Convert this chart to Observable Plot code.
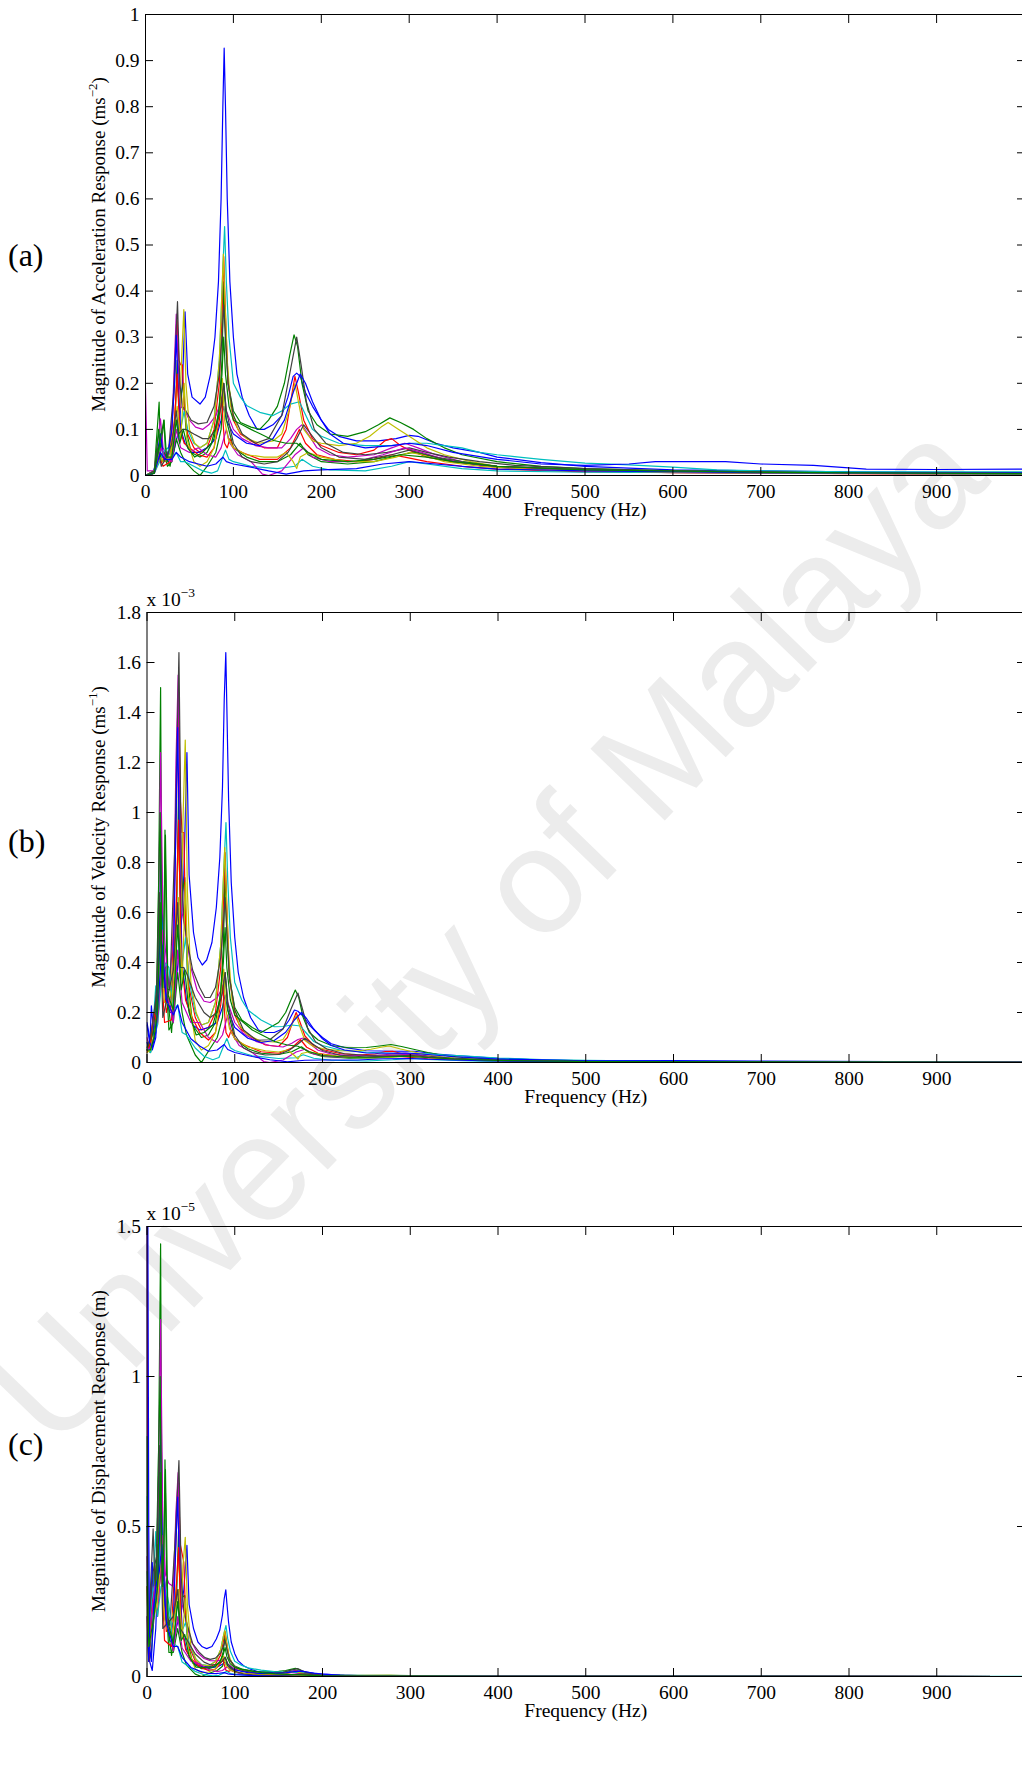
<!DOCTYPE html>
<html>
<head>
<meta charset="utf-8">
<script src="https://cdn.jsdelivr.net/npm/d3@7"></script>
<script src="https://cdn.jsdelivr.net/npm/@observablehq/plot@0.6"></script>
<style>
  html, body { margin: 0; padding: 0; background: white; overflow: hidden; }
  #page { position: relative; width: 1022px; height: 1778px; }
  #wm { position: absolute; left: 0; top: 0; z-index: 0; }
  #charts { position: absolute; left: 0; top: 0; z-index: 1; }
  #charts svg { display: block; }
</style>
</head>
<body>
<div id="page">
  <svg id="wm" width="1022" height="1778"></svg>
  <div id="charts"></div>
</div>
<script>
// ---------- series colours (MATLAB default colour order) ----------
const seriesColors = ["#0000ff","#008000","#ff0000","#00bfbf","#bf00bf","#bfbf00","#404040",
                      "#0000ff","#008000","#ff0000","#00bfbf","#bf00bf","#bfbf00","#404040",
                      "#0000ff","#008000"];

// ---------- tick values ----------
const xTicks = [0,100,200,300,400,500,600,700,800,900,1000];
const accTicks = [0,0.1,0.2,0.3,0.4,0.5,0.6,0.7,0.8,0.9,1];
const velTicks = [0,0.2,0.4,0.6,0.8,1,1.2,1.4,1.6,1.8];
const dispTicks = [0,0.5,1,1.5];

// ---------- (a) acceleration magnitude, [Hz, m/s^2] ----------
const acc1 = [[0,0],[8,0.005],[13,0.03],[17,0.09],[20,0.04],[26,0.03],[32,0.05],[38,0.1],[42,0.2],[45,0.355],[48,0.22],[53,0.17],[62,0.155],[68,0.17],[74,0.22],[79,0.3],[83,0.42],[86,0.6],[88,0.8],[89.5,0.927],[91,0.8],[93,0.6],[96,0.42],[100,0.3],[104,0.22],[110,0.17],[118,0.13],[127,0.1],[135,0.1],[145,0.11],[155,0.13],[162,0.17],[168,0.215],[172,0.222],[176,0.215],[182,0.18],[190,0.15],[200,0.12],[208,0.1],[220,0.085],[240,0.075],[265,0.075],[285,0.08],[300,0.087],[310,0.085],[330,0.07],[350,0.06],[380,0.05],[400,0.04],[450,0.028],[500,0.02],[600,0.012],[700,0.01],[800,0.008],[900,0.007],[1000,0.006]];
const acc2 = [[0,0],[10,0.01],[15.5,0.159],[17,0.05],[21,0.12],[23,0.04],[28,0.02],[33,0.08],[36,0.25],[38,0.15],[43,0.2],[46,0.1],[52,0.05],[62,0.04],[70,0.05],[78,0.08],[84,0.15],[87,0.25],[89,0.42],[91,0.3],[94,0.2],[100,0.14],[108,0.115],[120,0.105],[130,0.1],[140,0.12],[150,0.15],[158,0.2],[164,0.26],[169,0.305],[173,0.28],[178,0.2],[185,0.14],[195,0.11],[210,0.09],[230,0.085],[250,0.095],[265,0.11],[278,0.125],[290,0.115],[305,0.1],[320,0.08],[340,0.06],[360,0.045],[400,0.03],[450,0.02],[500,0.015],[600,0.01],[800,0.006],[1000,0.004]];
const acc3 = [[0,0],[10,0.01],[17,0.05],[22,0.03],[28,0.05],[33,0.2],[36,0.336],[38,0.25],[40,0.24],[42,0.24],[44,0.15],[48,0.09],[55,0.06],[62,0.05],[70,0.06],[78,0.1],[84,0.2],[87,0.35],[89,0.475],[91,0.35],[94,0.2],[100,0.12],[108,0.09],[120,0.075],[135,0.06],[150,0.06],[160,0.1],[166,0.17],[170,0.215],[174,0.18],[180,0.12],[190,0.08],[200,0.065],[220,0.05],[240,0.045],[260,0.055],[272,0.075],[280,0.08],[290,0.065],[300,0.055],[320,0.04],[350,0.03],[400,0.018],[500,0.01],[600,0.006],[800,0.004],[1000,0.003]];
const acc4 = [[0,0],[10,0.01],[16,0.06],[20,0.05],[25,0.05],[30,0.06],[35,0.12],[38,0.08],[44,0.14],[48,0.1],[55,0.07],[62,0.06],[70,0.07],[78,0.12],[84,0.25],[88,0.45],[90,0.54],[92,0.42],[95,0.3],[100,0.2],[108,0.17],[115,0.152],[130,0.137],[145,0.13],[155,0.14],[165,0.155],[175,0.16],[180,0.14],[190,0.1],[200,0.085],[220,0.07],[250,0.065],[280,0.065],[300,0.07],[320,0.07],[340,0.065],[360,0.06],[380,0.05],[400,0.045],[425,0.04],[450,0.035],[480,0.03],[500,0.027],[550,0.023],[600,0.018],[650,0.012],[700,0.01],[800,0.008],[900,0.008],[1000,0.008]];
const acc5 = [[0,0.19],[2,0.01],[10,0.01],[17,0.123],[20,0.06],[25,0.04],[30,0.1],[33,0.25],[35,0.35],[37,0.25],[40,0.15],[45,0.14],[50,0.12],[57,0.105],[65,0.1],[72,0.11],[80,0.13],[86,0.16],[89,0.2],[92,0.14],[100,0.1],[110,0.08],[125,0.065],[140,0.06],[155,0.06],[165,0.08],[172,0.1],[178,0.11],[185,0.09],[195,0.06],[210,0.045],[230,0.04],[260,0.045],[280,0.06],[295,0.07],[310,0.06],[330,0.045],[360,0.03],[400,0.02],[500,0.012],[600,0.008],[800,0.005],[1000,0.004]];
const acc6 = [[0,0],[10,0.01],[16,0.05],[20,0.03],[26,0.04],[32,0.1],[36,0.2],[39,0.14],[41,0.25],[43.6,0.36],[46,0.2],[50,0.1],[56,0.07],[62,0.06],[70,0.07],[78,0.12],[84,0.25],[87,0.4],[88.6,0.48],[90,0.4],[93,0.25],[97,0.15],[105,0.1],[115,0.08],[130,0.07],[145,0.075],[155,0.09],[163,0.14],[170,0.2],[175,0.15],[180,0.1],[190,0.075],[200,0.07],[220,0.065],[240,0.07],[255,0.085],[268,0.105],[276,0.115],[288,0.1],[300,0.085],[320,0.06],[340,0.045],[370,0.03],[400,0.02],[500,0.012],[600,0.008],[800,0.005],[1000,0.004]];
const acc7 = [[0,0],[10,0.01],[15,0.04],[20,0.03],[26,0.05],[32,0.18],[36.4,0.377],[39,0.2],[42,0.15],[46,0.14],[52,0.12],[60,0.112],[70,0.115],[78,0.15],[84,0.22],[87,0.3],[89,0.37],[91,0.3],[94,0.2],[100,0.13],[110,0.09],[125,0.07],[140,0.08],[155,0.13],[164,0.22],[172,0.3],[177,0.24],[183,0.16],[192,0.1],[205,0.07],[225,0.05],[250,0.045],[275,0.05],[300,0.06],[320,0.05],[345,0.04],[380,0.03],[420,0.022],[500,0.015],[600,0.01],[800,0.006],[1000,0.005]];
const acc8 = [[0,0],[10,0.005],[17,0.09],[20,0.05],[25,0.04],[30,0.1],[33,0.2],[35,0.304],[37,0.2],[40,0.1],[45,0.07],[52,0.05],[60,0.05],[70,0.06],[80,0.08],[86,0.12],[89,0.15],[92,0.12],[100,0.09],[115,0.07],[130,0.065],[145,0.08],[158,0.12],[168,0.18],[176,0.22],[182,0.2],[190,0.16],[200,0.12],[210,0.09],[225,0.07],[250,0.06],[280,0.065],[300,0.07],[320,0.065],[350,0.05],[400,0.035],[450,0.025],[500,0.022],[550,0.025],[580,0.03],[620,0.03],[660,0.03],[700,0.025],[760,0.022],[820,0.014],[900,0.013],[1000,0.014]];
const acc9 = [[0,0],[10,0.005],[15,0.1],[17,0.04],[21,0.05],[25,0.02],[30,0.03],[35,0.08],[40,0.05],[45,0.03],[55,0.01],[62,0],[70,0.02],[80,0.05],[86,0.1],[89,0.2],[92,0.12],[100,0.06],[115,0.04],[130,0.03],[150,0.03],[165,0.045],[176,0.07],[185,0.045],[200,0.03],[230,0.025],[260,0.03],[290,0.045],[305,0.05],[330,0.04],[360,0.03],[400,0.02],[500,0.012],[700,0.006],[1000,0.004]];
const acc10 = [[0,0],[10,0.005],[16,0.04],[20,0.02],[28,0.03],[33,0.12],[36,0.22],[39,0.1],[44,0.07],[50,0.06],[60,0.045],[70,0.04],[78,0.06],[84,0.12],[86.6,0.17],[88,0.12],[90,0.07],[93,0.06],[96,0.08],[100,0.06],[110,0.05],[130,0.035],[150,0.035],[165,0.06],[175,0.1],[182,0.07],[195,0.045],[215,0.035],[240,0.03],[260,0.035],[280,0.045],[295,0.04],[320,0.03],[360,0.02],[400,0.014],[500,0.008],[700,0.005],[1000,0.003]];
const acc11 = [[0,0],[10,0.005],[16,0.03],[20,0.05],[25,0.06],[30,0.04],[35,0.05],[40,0.03],[45,0.03],[55,0.02],[65,0.01],[75,0.005],[82,0.01],[88,0.04],[91,0.055],[95,0.035],[100,0.03],[120,0.02],[150,0.015],[170,0.02],[178,0.035],[190,0.02],[210,0.012],[250,0.01],[280,0.02],[300,0.03],[320,0.025],[360,0.015],[400,0.01],[500,0.007],[1000,0.003]];
const acc12 = [[0,0],[10,0.005],[18,0.06],[22,0.04],[30,0.03],[35,0.1],[40,0.06],[50,0.05],[60,0.06],[70,0.045],[80,0.04],[86,0.06],[92,0.1],[96,0.07],[105,0.045],[120,0.03],[133,0.003],[140,0],[155,0.01],[170,0.045],[180,0.06],[190,0.04],[210,0.03],[240,0.03],[270,0.045],[295,0.06],[315,0.05],[340,0.035],[380,0.022],[420,0.015],[500,0.01],[700,0.006],[1000,0.004]];
const acc13 = [[0,0],[10,0.005],[16,0.04],[20,0.03],[28,0.04],[33,0.1],[36,0.15],[40,0.08],[44,0.2],[47,0.08],[55,0.03],[62,0.02],[70,0.03],[78,0.06],[84,0.14],[87.5,0.21],[90,0.12],[94,0.08],[100,0.06],[115,0.045],[135,0.04],[150,0.04],[160,0.05],[168,0.03],[172,0.015],[176,0.04],[185,0.05],[200,0.04],[230,0.03],[260,0.03],[285,0.04],[300,0.05],[315,0.045],[340,0.03],[380,0.02],[450,0.012],[600,0.007],[1000,0.004]];
const acc14 = [[0,0],[10,0.005],[14,0.06],[18,0.02],[24,0.04],[30,0.07],[35,0.14],[38,0.09],[42,0.1],[46,0.1],[55,0.09],[65,0.08],[72,0.08],[80,0.1],[86,0.15],[89,0.2],[92,0.14],[100,0.07],[110,0.04],[120,0.03],[135,0.025],[150,0.03],[162,0.05],[172,0.08],[180,0.11],[188,0.09],[200,0.06],[220,0.04],[250,0.035],[280,0.045],[300,0.055],[320,0.045],[350,0.03],[400,0.02],[500,0.012],[700,0.007],[1000,0.004]];
const acc15 = [[0,0],[10,0.005],[17,0.05],[22,0.035],[30,0.035],[35,0.05],[40,0.04],[50,0.03],[60,0.025],[70,0.02],[80,0.025],[88,0.04],[92,0.03],[100,0.025],[120,0.018],[140,0.01],[160,0.003],[180,0.01],[200,0.012],[240,0.015],[270,0.025],[300,0.03],[330,0.025],[370,0.018],[400,0.014],[500,0.01],[700,0.006],[1000,0.005]];
const acc16 = [[0,0],[10,0.005],[15,0.06],[21,0.12],[24,0.04],[30,0.04],[35,0.12],[39,0.07],[43,0.1],[48,0.06],[56,0.04],[65,0.05],[75,0.07],[83,0.13],[87,0.22],[89,0.3],[91,0.22],[95,0.15],[100,0.12],[110,0.11],[120,0.1],[131,0.09],[146,0.076],[160,0.07],[172,0.07],[185,0.05],[200,0.035],[230,0.03],[260,0.035],[290,0.045],[320,0.04],[350,0.03],[400,0.02],[500,0.012],[700,0.007],[1000,0.004]];

// ---------- (b) velocity magnitude, [Hz, x10^-3 m/s] ----------
const vel1 = [[0,0.16],[3,0.1],[6,0.05],[10,0.1],[13,0.3],[16,0.88],[18,0.5],[21,0.3],[26,0.2],[30,0.2],[34,0.35],[38,0.5],[42,0.75],[45.5,1.24],[48,0.75],[53,0.52],[58,0.42],[63,0.39],[68,0.41],[74,0.48],[79,0.62],[83,0.82],[86,1.1],[88,1.45],[89.8,1.64],[91,1.42],[93,1.05],[96,0.72],[100,0.5],[104,0.36],[110,0.26],[118,0.18],[127,0.13],[135,0.12],[145,0.12],[155,0.135],[162,0.17],[168,0.21],[172,0.205],[178,0.185],[185,0.15],[192,0.125],[200,0.1],[210,0.075],[225,0.06],[250,0.047],[280,0.045],[305,0.045],[330,0.034],[360,0.026],[400,0.017],[450,0.01],[500,0.007],[600,0.004],[800,0.002],[1000,0.001]];
const vel2 = [[0,0.05],[4,0.04],[8,0.1],[12,0.3],[15.5,1.5],[17,0.5],[19,0.4],[20.5,0.93],[23,0.27],[28,0.12],[33,0.4],[36,1.1],[38,0.63],[43,0.74],[46,0.35],[52,0.15],[62,0.1],[70,0.11],[78,0.16],[84,0.28],[87,0.46],[89,0.78],[91,0.52],[94,0.34],[100,0.22],[108,0.17],[120,0.14],[130,0.12],[140,0.14],[150,0.16],[158,0.2],[164,0.25],[169,0.29],[173,0.26],[178,0.18],[185,0.12],[195,0.09],[210,0.068],[230,0.059],[250,0.06],[265,0.066],[278,0.072],[290,0.064],[305,0.052],[320,0.04],[340,0.028],[360,0.02],[400,0.012],[500,0.005],[700,0.002],[1000,0.001]];
const vel3 = [[0,0.05],[4,0.1],[8,0.2],[12,0.2],[16,0.5],[19,0.35],[22,0.2],[28,0.28],[33,0.93],[35,1.3],[36,1.45],[38,1.05],[40,0.92],[42,0.92],[44,0.55],[48,0.3],[55,0.18],[62,0.13],[70,0.14],[78,0.2],[84,0.38],[87,0.64],[89,0.84],[91,0.62],[94,0.34],[100,0.19],[108,0.13],[120,0.1],[135,0.07],[150,0.064],[160,0.1],[166,0.163],[170,0.2],[174,0.165],[180,0.106],[190,0.067],[200,0.052],[220,0.036],[240,0.03],[260,0.034],[272,0.044],[280,0.045],[290,0.036],[300,0.029],[320,0.02],[350,0.014],[400,0.007],[500,0.003],[1000,0.0005]];
const vel4 = [[0,0.08],[4,0.05],[7,0.15],[10,0.307],[13,0.2],[16,0.6],[20,0.4],[25,0.32],[30,0.32],[35,0.55],[38,0.34],[44,0.5],[48,0.33],[55,0.2],[62,0.15],[70,0.16],[78,0.24],[84,0.47],[88,0.81],[90,0.96],[92,0.73],[95,0.5],[100,0.32],[108,0.25],[115,0.21],[130,0.17],[145,0.143],[155,0.144],[165,0.15],[175,0.146],[180,0.124],[190,0.084],[200,0.068],[220,0.05],[250,0.041],[280,0.037],[300,0.037],[320,0.035],[340,0.03],[360,0.027],[400,0.018],[450,0.012],[500,0.009],[600,0.005],[700,0.002],[1000,0.001]];
const vel5 = [[0,0.1],[3,0.05],[8,0.1],[12,0.3],[15.5,1.24],[18,0.6],[21,0.45],[25,0.3],[30,0.5],[33,1.2],[35.5,1.55],[37,1.1],[40,0.6],[45,0.5],[50,0.38],[57,0.29],[65,0.245],[72,0.24],[80,0.26],[86,0.3],[89,0.36],[92,0.24],[100,0.16],[110,0.116],[125,0.083],[140,0.068],[155,0.062],[165,0.077],[172,0.092],[178,0.098],[185,0.077],[195,0.049],[210,0.034],[230,0.028],[260,0.028],[280,0.034],[295,0.038],[310,0.031],[330,0.022],[360,0.013],[400,0.008],[500,0.004],[1000,0.0006]];
const vel6 = [[0,0.05],[4,0.06],[8,0.15],[12,0.25],[16,0.5],[19,0.35],[22,0.26],[26,0.25],[32,0.5],[36,0.88],[39,0.57],[41,0.97],[43.6,1.29],[46,0.69],[50,0.32],[56,0.2],[62,0.15],[70,0.16],[78,0.24],[84,0.47],[87,0.73],[88.6,0.86],[90,0.71],[93,0.43],[97,0.25],[105,0.15],[115,0.11],[130,0.085],[145,0.082],[155,0.092],[163,0.137],[170,0.187],[175,0.136],[180,0.088],[190,0.063],[200,0.056],[220,0.047],[240,0.046],[255,0.053],[268,0.062],[276,0.066],[288,0.055],[300,0.045],[320,0.03],[340,0.021],[370,0.013],[400,0.008],[500,0.004],[1000,0.0006]];
const vel7 = [[0,0.05],[4,0.08],[8,0.15],[11,0.3],[14,0.25],[17,0.4],[20,0.3],[26,0.29],[32,0.9],[36.4,1.64],[39,0.82],[42,0.57],[46,0.48],[52,0.37],[60,0.3],[66,0.26],[72,0.26],[78,0.3],[84,0.42],[87,0.55],[89,0.66],[91,0.52],[94,0.34],[100,0.21],[110,0.13],[125,0.089],[140,0.091],[155,0.134],[164,0.213],[172,0.278],[177,0.216],[183,0.139],[192,0.083],[205,0.054],[225,0.035],[250,0.029],[275,0.029],[300,0.032],[320,0.025],[345,0.018],[380,0.013],[420,0.008],[500,0.005],[1000,0.0008]];
const vel8 = [[0,0.08],[3,0.05],[5,0.227],[8,0.1],[12,0.25],[16,0.6],[18,0.45],[22,0.25],[27,0.22],[30,0.35],[33,0.95],[35,1.34],[37,0.86],[40,0.4],[45,0.25],[52,0.15],[60,0.13],[70,0.14],[80,0.16],[86,0.22],[89,0.27],[92,0.21],[100,0.14],[115,0.097],[130,0.08],[145,0.088],[158,0.121],[168,0.17],[176,0.2],[182,0.175],[190,0.134],[200,0.095],[210,0.068],[225,0.05],[250,0.038],[280,0.037],[300,0.037],[320,0.032],[350,0.023],[400,0.014],[500,0.007],[600,0.008],[700,0.006],[1000,0.002]];
const vel9 = [[0,0.05],[5,0.1],[10,0.15],[15,1.0],[17,0.37],[21,0.38],[25,0.13],[30,0.16],[35,0.36],[40,0.2],[45,0.11],[55,0.03],[62,0],[70,0.045],[80,0.1],[86,0.18],[89,0.36],[92,0.21],[100,0.095],[115,0.055],[130,0.037],[150,0.032],[165,0.043],[176,0.063],[185,0.039],[200,0.024],[230,0.017],[260,0.018],[290,0.025],[305,0.026],[330,0.019],[360,0.013],[400,0.008],[500,0.004],[1000,0.0006]];
const vel10 = [[0,0.04],[4,0.08],[8,0.2],[12,0.15],[16,0.4],[20,0.16],[28,0.17],[33,0.58],[36,0.97],[39,0.41],[44,0.25],[50,0.19],[60,0.12],[70,0.09],[78,0.12],[84,0.23],[86.6,0.31],[88,0.22],[90,0.12],[93,0.1],[96,0.13],[100,0.095],[110,0.072],[130,0.043],[150,0.037],[165,0.058],[175,0.091],[182,0.061],[195,0.037],[215,0.026],[240,0.02],[260,0.021],[280,0.026],[295,0.022],[320,0.015],[360,0.009],[400,0.006],[500,0.003],[1000,0.0005]];
const vel11 = [[0,0.06],[4,0.04],[8,0.1],[12,0.15],[16,0.3],[20,0.4],[25,0.38],[30,0.21],[35,0.23],[40,0.12],[45,0.11],[55,0.058],[65,0.025],[75,0.011],[82,0.02],[88,0.072],[91,0.096],[95,0.059],[100,0.048],[120,0.027],[150,0.016],[170,0.019],[178,0.031],[190,0.017],[210,0.009],[250,0.006],[280,0.011],[300,0.016],[320,0.012],[360,0.007],[400,0.004],[500,0.002],[1000,0.0005]];
const vel12 = [[0,0.05],[4,0.06],[8,0.1],[13,0.2],[18,0.53],[22,0.29],[30,0.16],[35,0.45],[40,0.24],[50,0.16],[60,0.16],[70,0.1],[80,0.08],[86,0.11],[92,0.19],[96,0.12],[105,0.068],[120,0.04],[133,0.004],[140,0],[155,0.01],[170,0.042],[180,0.053],[190,0.034],[210,0.023],[240,0.02],[270,0.026],[295,0.032],[315,0.025],[340,0.016],[380,0.009],[420,0.006],[500,0.003],[1000,0.0006]];
const vel13 = [[0,0.04],[4,0.05],[8,0.1],[12,0.2],[16,0.4],[20,0.24],[28,0.23],[33,0.48],[36,0.66],[40,0.32],[44,0.72],[47,0.27],[55,0.087],[62,0.05],[70,0.068],[78,0.12],[84,0.27],[87.5,0.374],[90,0.21],[94,0.135],[100,0.095],[115,0.062],[135,0.047],[150,0.042],[160,0.05],[168,0.028],[172,0.014],[176,0.036],[185,0.043],[200,0.032],[230,0.021],[260,0.018],[285,0.022],[300,0.027],[315,0.023],[340,0.014],[380,0.008],[450,0.004],[1000,0.0006]];
const vel14 = [[0,0.06],[4,0.1],[8,0.2],[11,0.28],[14,0.68],[18,0.18],[24,0.27],[30,0.37],[35,0.64],[38,0.38],[42,0.38],[46,0.35],[55,0.26],[65,0.2],[72,0.18],[80,0.2],[86,0.28],[89,0.36],[92,0.24],[100,0.11],[110,0.058],[120,0.04],[135,0.03],[150,0.032],[162,0.049],[172,0.074],[180,0.097],[188,0.076],[200,0.048],[220,0.029],[250,0.022],[280,0.026],[300,0.029],[320,0.022],[350,0.014],[400,0.008],[500,0.004],[1000,0.0006]];
const vel15 = [[0,0.15],[3,0.08],[6,0.06],[10,0.12],[14,0.3],[17,0.47],[22,0.25],[30,0.19],[35,0.23],[40,0.16],[50,0.095],[60,0.066],[70,0.045],[80,0.05],[88,0.072],[92,0.052],[100,0.04],[120,0.024],[140,0.011],[160,0.003],[180,0.009],[200,0.01],[240,0.01],[270,0.015],[300,0.016],[330,0.012],[370,0.008],[400,0.006],[500,0.003],[700,0.0014],[1000,0.0008]];
const vel16 = [[0,0.05],[4,0.05],[8,0.1],[12,0.2],[15,0.64],[18,0.3],[21,0.91],[24,0.27],[30,0.21],[35,0.55],[39,0.29],[43,0.37],[48,0.2],[56,0.11],[65,0.12],[75,0.15],[83,0.25],[87,0.4],[89,0.54],[91,0.38],[95,0.25],[100,0.19],[110,0.16],[120,0.13],[131,0.11],[146,0.083],[160,0.07],[172,0.065],[185,0.043],[200,0.028],[230,0.021],[260,0.021],[290,0.025],[320,0.02],[350,0.014],[400,0.008],[500,0.004],[1000,0.0006]];

// ---------- (c) displacement magnitude, [Hz, x10^-5 m] ----------
const disp1 = [[0,1.6],[1,0.3],[3,0.05],[6,0.02],[10,0.16],[13,0.4],[16,0.85],[18,0.4],[21,0.2],[26,0.12],[30,0.11],[34,0.17],[38,0.21],[42,0.29],[45.5,0.437],[48,0.24],[53,0.16],[58,0.115],[63,0.099],[68,0.093],[74,0.1],[79,0.125],[83,0.155],[86,0.205],[88,0.26],[89.8,0.289],[91,0.245],[93,0.18],[96,0.115],[100,0.076],[104,0.052],[110,0.036],[118,0.024],[127,0.016],[135,0.014],[145,0.013],[155,0.014],[162,0.016],[168,0.019],[172,0.019],[178,0.017],[185,0.013],[192,0.01],[200,0.008],[210,0.006],[225,0.004],[250,0.003],[300,0.0025],[350,0.0012],[400,0.0006],[500,0.0002],[1000,0]];
const disp2 = [[0,0.3],[2,0.05],[5,0.08],[8,0.2],[12,0.4],[15.5,1.442],[17,0.45],[19,0.3],[20.5,0.722],[23,0.19],[28,0.07],[33,0.19],[36,0.49],[38,0.26],[43,0.27],[46,0.12],[52,0.046],[62,0.026],[70,0.026],[78,0.033],[84,0.053],[87,0.084],[89,0.14],[91,0.091],[94,0.057],[100,0.035],[108,0.025],[120,0.018],[130,0.015],[140,0.016],[150,0.017],[158,0.02],[164,0.024],[169,0.027],[173,0.024],[178,0.016],[185,0.01],[195,0.007],[210,0.005],[230,0.004],[260,0.0035],[278,0.004],[300,0.003],[350,0.0013],[400,0.0005],[500,0.0002],[1000,0]];
const disp3 = [[0,0.2],[2,0.05],[5,0.15],[9,0.37],[12,0.25],[16,0.5],[19,0.3],[22,0.15],[28,0.16],[33,0.45],[35,0.6],[36,0.62],[38,0.44],[40,0.41],[42,0.38],[44,0.2],[48,0.1],[55,0.052],[62,0.033],[70,0.031],[78,0.041],[84,0.072],[87,0.118],[89,0.15],[91,0.11],[94,0.058],[100,0.03],[108,0.02],[120,0.013],[135,0.0083],[150,0.0068],[160,0.01],[166,0.016],[170,0.019],[174,0.015],[180,0.0094],[190,0.0056],[200,0.0041],[240,0.002],[280,0.0026],[300,0.0016],[350,0.0006],[400,0.0003],[1000,0]];
const disp4 = [[0,0.6],[2,0.1],[5,0.2],[7,0.3],[10,0.483],[13,0.25],[16,0.6],[20,0.32],[25,0.2],[30,0.17],[35,0.25],[38,0.14],[44,0.18],[48,0.11],[55,0.06],[62,0.04],[70,0.036],[78,0.05],[84,0.09],[88,0.147],[90,0.17],[92,0.126],[95,0.084],[100,0.051],[108,0.037],[115,0.029],[130,0.021],[145,0.016],[155,0.015],[165,0.014],[175,0.013],[180,0.011],[190,0.007],[200,0.0054],[220,0.0036],[250,0.0026],[300,0.002],[350,0.0014],[400,0.0007],[500,0.0003],[1000,0.0001]];
const disp5 = [[0,1.6],[1,0.4],[3,0.1],[8,0.2],[12,0.4],[15.5,1.19],[18,0.5],[21,0.34],[25,0.31],[30,0.3],[33,0.55],[35.5,0.68],[37,0.47],[40,0.24],[45,0.18],[50,0.12],[57,0.081],[65,0.06],[72,0.053],[80,0.052],[86,0.056],[89,0.064],[92,0.042],[100,0.025],[110,0.017],[125,0.011],[140,0.0077],[155,0.0064],[165,0.0075],[172,0.0085],[178,0.0088],[185,0.0066],[195,0.004],[210,0.0026],[240,0.0017],[295,0.002],[330,0.001],[400,0.0003],[1000,0]];
const disp6 = [[0,0.3],[2,0.08],[5,0.15],[8,0.25],[12,0.3],[16,0.4],[19,0.29],[22,0.19],[26,0.15],[32,0.25],[36,0.39],[39,0.23],[41,0.37],[43.6,0.464],[46,0.24],[50,0.1],[56,0.057],[62,0.039],[70,0.036],[78,0.049],[84,0.09],[87,0.134],[88.6,0.153],[90,0.125],[93,0.074],[97,0.041],[105,0.023],[115,0.015],[130,0.01],[145,0.009],[155,0.0095],[163,0.013],[170,0.0175],[175,0.012],[180,0.0078],[190,0.0053],[200,0.0044],[240,0.003],[276,0.0038],[300,0.0024],[350,0.0009],[400,0.0003],[1000,0]];
const disp7 = [[0,0.4],[2,0.1],[4,0.3],[7,0.492],[9,0.3],[12,0.44],[14,0.3],[17,0.37],[20,0.24],[26,0.17],[32,0.45],[36.4,0.72],[39,0.33],[42,0.22],[46,0.17],[52,0.11],[60,0.079],[66,0.063],[72,0.057],[78,0.061],[84,0.079],[87,0.1],[89,0.12],[91,0.092],[94,0.057],[100,0.033],[110,0.019],[125,0.011],[140,0.01],[155,0.014],[164,0.021],[172,0.026],[177,0.019],[183,0.012],[192,0.0069],[205,0.0042],[225,0.0025],[275,0.0017],[300,0.0017],[350,0.0008],[400,0.0004],[1000,0]];
const disp8 = [[0,0.2],[2,0.05],[4,0.2],[6,0.38],[8,0.2],[12,0.3],[16,0.6],[18,0.4],[22,0.18],[27,0.13],[30,0.18],[33,0.45],[35,0.598],[37,0.37],[40,0.16],[45,0.087],[52,0.046],[60,0.035],[70,0.031],[80,0.032],[86,0.041],[89,0.048],[92,0.036],[100,0.022],[115,0.013],[130,0.0097],[145,0.0096],[158,0.012],[168,0.016],[176,0.018],[182,0.015],[190,0.011],[200,0.0076],[220,0.0045],[250,0.0024],[300,0.002],[350,0.001],[400,0.0006],[600,0.0002],[1000,0]];
const disp9 = [[0,0.8],[1,0.2],[3,0.1],[6,0.25],[10,0.3],[15,1.0],[17,0.35],[21,0.29],[25,0.08],[30,0.08],[35,0.16],[40,0.08],[45,0.038],[55,0.008],[62,0],[70,0.01],[80,0.02],[86,0.034],[89,0.064],[92,0.036],[100,0.015],[115,0.0077],[130,0.0045],[150,0.0034],[165,0.0042],[176,0.0057],[185,0.0034],[200,0.0019],[250,0.0012],[300,0.0014],[400,0.0003],[1000,0]];
const disp10 = [[0,0.3],[2,0.1],[5,0.2],[8,0.3],[12,0.2],[16,0.4],[20,0.12],[28,0.1],[33,0.28],[36,0.43],[39,0.17],[44,0.09],[50,0.06],[60,0.032],[70,0.02],[78,0.025],[84,0.044],[86.6,0.057],[88,0.039],[90,0.021],[93,0.017],[96,0.021],[100,0.015],[110,0.01],[130,0.0052],[150,0.004],[165,0.0056],[175,0.0083],[182,0.0053],[195,0.003],[240,0.0013],[280,0.0015],[320,0.0007],[400,0.0002],[1000,0]];
const disp11 = [[0,0.5],[2,0.15],[5,0.25],[8,0.3],[12,0.2],[16,0.3],[20,0.32],[25,0.24],[30,0.11],[35,0.1],[40,0.048],[45,0.038],[55,0.017],[65,0.006],[75,0.002],[82,0.004],[88,0.013],[91,0.017],[95,0.01],[100,0.0076],[120,0.0035],[150,0.0017],[170,0.0018],[178,0.0028],[190,0.0014],[210,0.0007],[300,0.0008],[400,0.0002],[1000,0]];
const disp12 = [[0,0.4],[2,0.1],[5,0.2],[9,0.3],[13,0.25],[18,0.47],[22,0.21],[30,0.085],[35,0.2],[40,0.095],[50,0.051],[60,0.042],[70,0.023],[80,0.016],[86,0.02],[92,0.033],[96,0.02],[105,0.01],[120,0.0053],[140,0],[155,0.001],[170,0.0039],[180,0.0047],[190,0.0028],[210,0.0017],[240,0.0013],[295,0.0017],[340,0.0008],[400,0.0003],[1000,0]];
const disp13 = [[0,0.3],[2,0.1],[5,0.15],[8,0.2],[12,0.25],[16,0.4],[20,0.19],[28,0.13],[33,0.23],[36,0.29],[40,0.13],[44,0.26],[47,0.09],[55,0.025],[62,0.013],[70,0.015],[78,0.025],[84,0.051],[87.5,0.068],[90,0.037],[94,0.023],[100,0.015],[115,0.0086],[135,0.0055],[150,0.0045],[160,0.005],[168,0.0027],[172,0.0013],[176,0.0033],[185,0.0037],[200,0.0025],[240,0.0013],[300,0.0014],[350,0.0006],[400,0.0002],[1000,0]];
const disp14 = [[0,0.5],[2,0.15],[4,0.25],[7,0.35],[11,0.4],[14,0.77],[18,0.16],[24,0.18],[30,0.2],[35,0.29],[38,0.16],[42,0.14],[46,0.12],[55,0.075],[65,0.048],[72,0.039],[80,0.04],[86,0.051],[89,0.064],[92,0.042],[100,0.018],[110,0.0083],[120,0.0053],[135,0.0035],[150,0.0034],[162,0.0048],[172,0.0069],[180,0.0086],[188,0.0064],[200,0.0038],[250,0.0014],[300,0.0015],[350,0.0006],[400,0.0003],[1000,0]];
const disp15 = [[0,2.0],[1,1.5],[2,0.5],[3,0.1],[5,0.05],[7,0.2],[10,0.3],[14,0.35],[17,0.44],[22,0.18],[30,0.1],[35,0.1],[40,0.064],[50,0.03],[60,0.018],[70,0.01],[80,0.0099],[88,0.013],[92,0.009],[100,0.0063],[120,0.0032],[140,0.0013],[160,0.0003],[180,0.0008],[200,0.0008],[270,0.0009],[300,0.0008],[400,0.0002],[1000,0]];
const disp16 = [[0,0.35],[2,0.1],[5,0.15],[8,0.2],[12,0.3],[15,0.68],[18,0.3],[21,0.69],[24,0.18],[30,0.11],[35,0.25],[39,0.12],[43,0.14],[48,0.066],[56,0.031],[65,0.03],[75,0.032],[83,0.048],[87,0.074],[89,0.096],[91,0.067],[95,0.042],[100,0.03],[110,0.023],[120,0.018],[131,0.013],[146,0.009],[160,0.0069],[172,0.006],[185,0.0037],[200,0.0022],[250,0.0012],[300,0.0011],[400,0.0003],[1000,0]];

const accSeries = [acc1,acc2,acc3,acc4,acc5,acc6,acc7,acc8,acc9,acc10,acc11,acc12,acc13,acc14,acc15,acc16];
const velSeries = [vel1,vel2,vel3,vel4,vel5,vel6,vel7,vel8,vel9,vel10,vel11,vel12,vel13,vel14,vel15,vel16];
const dispSeries = [disp1,disp2,disp3,disp4,disp5,disp6,disp7,disp8,disp9,disp10,disp11,disp12,disp13,disp14,disp15,disp16];

const FONT = "Liberation Serif, Times New Roman, serif";
const fmt = d => String(+(+d).toFixed(2));

function panel({series, yTicks, yMax, height, marginTop, marginBottom, marginLeft, letter, letterY, title, titleSup, scaleExp}) {
  const W = 1022;
  const marks = [];
  series.forEach((pts, i) => {
    marks.push(Plot.line(pts, {x: d => d[0], y: d => d[1], stroke: seriesColors[i], strokeWidth: 1.2, clip: true}));
  });
  marks.push(
    Plot.frame({stroke: "black", strokeWidth: 1}),
    Plot.axisX(xTicks, {anchor: "bottom", tickSize: -8, tickPadding: 16.2, tickFormat: d => d === 1000 ? "" : String(d), label: null}),
    Plot.axisX(xTicks, {anchor: "top", tickSize: -8, tickFormat: () => "", label: null}),
    Plot.axisY(yTicks, {anchor: "left", tickSize: -8, tickPadding: 14, tickFormat: fmt, label: null}),
    Plot.axisY(yTicks, {anchor: "right", tickSize: -8, tickFormat: () => "", label: null}),
    Plot.text(["Frequency (Hz)"], {frameAnchor: "bottom", dy: 40, lineAnchor: "bottom", text: d => d, fontSize: 19.5, fill: "black"})
  );
  const svg = Plot.plot({
    width: W, height, marginLeft, marginRight: -2, marginTop, marginBottom,
    x: {domain: [0, 1000], axis: null},
    y: {domain: [0, yMax], axis: null},
    style: {fontFamily: FONT, fontSize: "19.5px", background: "transparent", color: "black"},
    marks
  });
  const s = d3.select(svg);
  const cy = (marginTop + (height - marginBottom)) / 2;
  // y-axis title (rotated) with superscript
  const t = s.append("text")
    .attr("transform", `translate(105,${cy}) rotate(-90)`)
    .attr("text-anchor", "middle")
    .attr("font-family", FONT).attr("font-size", 19).attr("fill", "black");
  t.append("tspan").text(title);
  if (titleSup) {
    t.append("tspan").attr("dy", -8).attr("font-size", 13).text(titleSup);
    t.append("tspan").attr("dy", 8).attr("font-size", 19).text(")");
  }
  // panel letter
  s.append("text").attr("x", 8).attr("y", letterY).attr("text-anchor", "start")
    .attr("font-family", FONT).attr("font-size", 32).attr("fill", "black").text(letter);
  // scale exponent
  if (scaleExp) {
    const e = s.append("text").attr("x", marginLeft).attr("y", marginTop - 6).attr("text-anchor", "start")
      .attr("font-family", FONT).attr("font-size", 19.5).attr("fill", "black");
    e.append("tspan").text("x 10");
    e.append("tspan").attr("dy", -9).attr("font-size", 13.5).text(scaleExp);
  }
  return svg;
}

const charts = document.getElementById("charts");
charts.appendChild(panel({
  series: accSeries, yTicks: accTicks, yMax: 1, height: 540, marginTop: 14, marginBottom: 65, marginLeft: 145,
  letter: "(a)", letterY: 266, title: "Magnitude of Acceleration Response (ms", titleSup: "\u22122"
}));
charts.appendChild(panel({
  series: velSeries, yTicks: velTicks, yMax: 1.8, height: 590, marginTop: 72, marginBottom: 68, marginLeft: 146.5,
  letter: "(b)", letterY: 312, title: "Magnitude of Velocity Response (ms", titleSup: "\u22121", scaleExp: "\u22123"
}));
charts.appendChild(panel({
  series: dispSeries, yTicks: dispTicks, yMax: 1.5, height: 648, marginTop: 96, marginBottom: 102, marginLeft: 146.5,
  letter: "(c)", letterY: 325, title: "Magnitude of Displacement Response (m)", titleSup: null, scaleExp: "\u22125"
}));

// faint watermark behind the charts
d3.select("#wm").append("text")
  .attr("transform", "translate(495,940) rotate(-46)")
  .attr("text-anchor", "middle").attr("dy", "0.26em")
  .attr("font-family", "Liberation Sans, Arial, sans-serif").attr("font-size", 150)
  .attr("fill", "#ececec").text("University of Malaya");
</script>
</body>
</html>
